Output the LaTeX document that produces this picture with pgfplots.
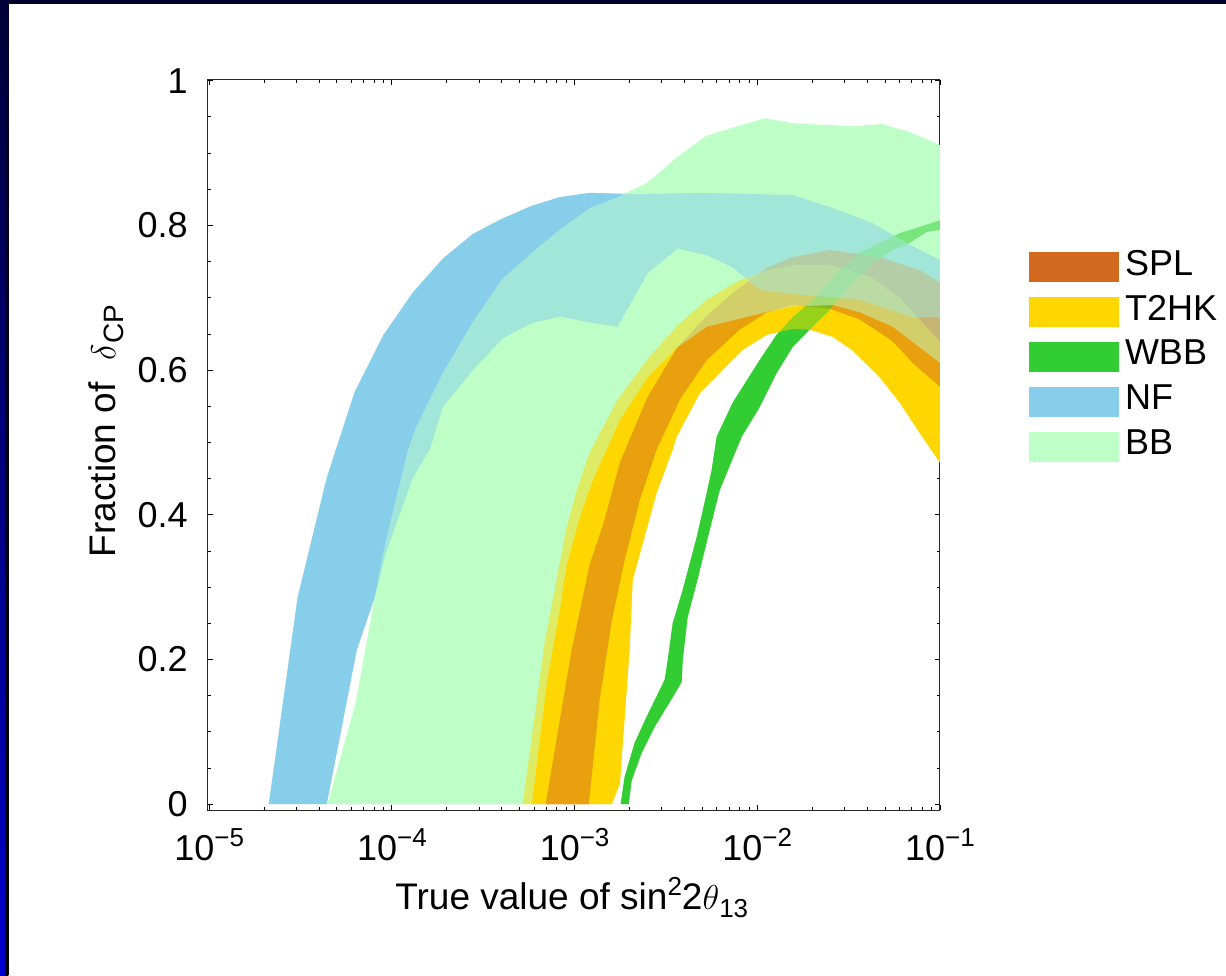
\documentclass[border=0pt]{standalone}
\usepackage{fontspec}
\setmainfont{Liberation Sans}
\usepackage{pgfplots}
\usepackage{pgfplotstable}
\pgfplotsset{compat=1.18}
\definecolor{cSPL}{RGB}{210,105,30}
\definecolor{cT2HK}{RGB}{255,215,0}
\definecolor{cWBB}{RGB}{50,205,50}
\definecolor{cNF}{RGB}{135,206,235}
\definecolor{cBB}{RGB}{190,255,200}
\definecolor{navyA}{RGB}{0,0,40}
\definecolor{navyB}{RGB}{0,0,55}
\definecolor{blueB}{RGB}{0,0,205}
\newcommand{\xt}[1]{10\raisebox{7pt}{\fontsize{13}{14}\selectfont −#1}}

\pgfplotstableread{
x y
2.12e-5 0
3.05e-5 0.286
4.40e-5 0.451
6.26e-5 0.570
9.02e-5 0.649
1.30e-4 0.707
1.90e-4 0.754
2.77e-4 0.788
3.99e-4 0.809
5.83e-4 0.827
8.29e-4 0.839
1.21e-3 0.845
2.27e-3 0.843
4.84e-3 0.845
1.56e-2 0.842
2.59e-2 0.824
4.28e-2 0.803
6.57e-2 0.776
0.1 0.752
0.1 0.673
7.09e-2 0.673
3.64e-2 0.697
1.56e-2 0.705
1.03e-2 0.711
7.34e-3 0.742
5.29e-3 0.759
3.67e-3 0.768
2.51e-3 0.734
1.72e-3 0.660
1.21e-3 0.666
8.29e-4 0.674
5.83e-4 0.665
4.04e-4 0.644
2.77e-4 0.600
1.90e-4 0.549
1.61e-4 0.490
1.30e-4 0.451
9.25e-5 0.347
8.05e-5 0.286
6.42e-5 0.213
4.40e-5 0
}\NFdata

\pgfplotstableread{
x y
4.45e-5 0
6.34e-5 0.140
8.05e-5 0.285
9.02e-5 0.351
1.205e-4 0.483
1.333e-4 0.517
1.90e-4 0.596
2.77e-4 0.666
3.99e-4 0.725
5.83e-4 0.762
8.29e-4 0.794
1.21e-3 0.824
1.72e-3 0.839
2.51e-3 0.859
3.67e-3 0.895
5.29e-3 0.924
7.34e-3 0.935
1.10e-2 0.948
1.56e-2 0.941
3.33e-2 0.937
4.80e-2 0.940
6.83e-2 0.929
0.1 0.911
0.1 0.610
5.51e-2 0.660
3.64e-2 0.680
2.59e-2 0.690
1.56e-2 0.688
1.07e-2 0.679
5.29e-3 0.660
3.67e-3 0.632
2.51e-3 0.590
1.77e-3 0.531
1.26e-3 0.448
1.07e-3 0.397
9.05e-4 0.331
8.29e-4 0.268
7.04e-4 0.167
5.83e-4 0
}\BBdata

\pgfplotstableread{
x y
5.20e-4 0
6.86e-4 0.223
9.05e-4 0.383
1.04e-3 0.438
1.21e-3 0.486
1.72e-3 0.559
2.51e-3 0.615
3.67e-3 0.662
5.29e-3 0.697
7.72e-3 0.722
1.13e-2 0.738
1.56e-2 0.745
2.49e-2 0.745
4.12e-2 0.730
6.02e-2 0.700
0.1 0.639
0.1 0.472
7.75e-2 0.513
6.02e-2 0.555
4.68e-2 0.590
3.33e-2 0.627
2.59e-2 0.646
1.94e-2 0.656
1.56e-2 0.657
1.13e-2 0.649
8.32e-3 0.628
6.23e-3 0.596
4.84e-3 0.568
3.62e-3 0.508
3.44e-3 0.490
2.81e-3 0.430
2.08e-3 0.310
2.00e-3 0.213
1.77e-3 0.029
1.60e-3 0
}\TtwoHKdata

\pgfplotstableread{
x y
6.95e-4 0
9.64e-4 0.213
1.21e-3 0.331
1.46e-3 0.393
1.77e-3 0.472
2.51e-3 0.563
3.67e-3 0.632
5.29e-3 0.675
7.72e-3 0.711
1.13e-2 0.741
1.56e-2 0.756
2.49e-2 0.766
4.68e-2 0.756
7.75e-2 0.738
0.1 0.721
0.1 0.577
7.09e-2 0.610
5.51e-2 0.640
3.64e-2 0.670
2.49e-2 0.685
1.56e-2 0.690
1.13e-2 0.680
8.0e-3 0.656
5.29e-3 0.614
3.76e-3 0.559
2.81e-3 0.490
2.27e-3 0.420
1.88e-3 0.338
1.60e-3 0.255
1.37e-3 0.144
1.195e-3 0
}\SPLdata

\pgfplotstableread{
x y
1.788e-3 0
1.880e-3 0.038
2.133e-3 0.085
2.481e-3 0.121
3.113e-3 0.172
3.233e-3 0.199
3.443e-3 0.250
3.906e-3 0.296
4.660e-3 0.369
5.285e-3 0.430
5.629e-3 0.462
5.996e-3 0.508
7.335e-3 0.555
1.031e-2 0.614
1.277e-2 0.649
1.562e-2 0.673
2.010e-2 0.697
2.720e-2 0.734
3.628e-2 0.762
4.677e-2 0.776
6.017e-2 0.789
7.745e-2 0.798
0.1 0.807
0.1 0.794
8.456e-2 0.791
6.827e-2 0.776
5.510e-2 0.766
4.281e-2 0.748
3.204e-2 0.716
2.399e-2 0.679
1.864e-2 0.652
1.562e-2 0.632
1.277e-2 0.596
1.031e-2 0.549
8.216e-3 0.508
6.226e-3 0.434
5.489e-3 0.379
4.660e-3 0.306
4.159e-3 0.259
3.906e-3 0.199
3.857e-3 0.169
3.443e-3 0.148
2.744e-3 0.107
2.330e-3 0.071
2.054e-3 0.033
1.978e-3 0
}\WBBdata

\begin{document}
\begin{tikzpicture}
\path[use as bounding box] (0,0) rectangle (613pt,487.5pt);
\fill[white] (0,0) rectangle (613pt,487.5pt);
\fill[navyA] (0,485.5pt) rectangle (613pt,487.5pt);
\shade[top color=navyB, bottom color=blueB] (0,0) rectangle (2.5pt,487.5pt);
\shade[top color=navyB, bottom color=black] (2.5pt,0) rectangle (4.2pt,487.5pt);
\begin{axis}[
  at={(104pt,82.5pt)}, anchor=south west,
  scale only axis, width=366pt, height=365pt,
  xmode=log, log basis x=10,
  xmin=9.85e-6, xmax=0.1, ymin=-0.008, ymax=1.001,
  xtick={1e-5,1e-4,1e-3,1e-2,1e-1},
  xticklabels={\xt{5},\xt{4},\xt{3},\xt{2},\xt{1}},
  minor xtick={2e-5,3e-5,4e-5,5e-5,6e-5,7e-5,8e-5,9e-5,2e-4,3e-4,4e-4,5e-4,6e-4,7e-4,8e-4,9e-4,2e-3,3e-3,4e-3,5e-3,6e-3,7e-3,8e-3,9e-3,2e-2,3e-2,4e-2,5e-2,6e-2,7e-2,8e-2,9e-2},
  ytick={0,0.2,0.4,0.6,0.8,1},
  yticklabels={0,0.2,0.4,0.6,0.8,1},
  minor y tick num=3,
  tick align=inside,
  major tick length=2.5pt, minor tick length=1.5pt,
  tick style={black, line width=0.4pt},
  axis line style={black!85, line width=0.5pt},
  ticklabel style={font=\fontsize{18}{21}\selectfont, inner sep=0pt},
  xticklabel style={yshift=-9pt},
  yticklabel style={xshift=-10pt},
  label style={font=\fontsize{18.5}{22}\selectfont},
  xlabel={True value of sin\raisebox{7pt}{\fontsize{13}{14}\selectfont 2}2\ensuremath{\theta}\raisebox{-4pt}{\fontsize{13}{14}\selectfont 13}},
  ylabel={Fraction of\hspace{0.6em}\ensuremath{\delta}\raisebox{-4pt}{\fontsize{14}{15}\selectfont CP}},
  xlabel style={at={(axis description cs:0.497,-0.1205)}, anchor=center, inner sep=0pt},
  ylabel style={at={(axis description cs:-0.1393,0.519)}, anchor=center, inner sep=0pt},
  legend image code/.code={\fill[#1, draw=none] (0pt,-9pt) rectangle (45pt,6pt);},
  legend style={at={(axis description cs:1.1216,0.767)}, anchor=north west,
    draw=none, fill=none, inner sep=0pt, outer sep=0pt,
    row sep=6.5pt, column sep=3pt,
    nodes={inner sep=0pt, outer sep=0pt},
    font=\fontsize{18}{21}\selectfont},
  legend cell align=left,
  clip=true,
]
\addlegendimage{fill=cSPL}
\addlegendentry{SPL}
\addlegendimage{fill=cT2HK}
\addlegendentry{T2HK}
\addlegendimage{fill=cWBB}
\addlegendentry{WBB}
\addlegendimage{fill=cNF}
\addlegendentry{NF}
\addlegendimage{fill=cBB}
\addlegendentry{BB}
% first pass: opaque, reverse order
\addplot[forget plot, fill=cBB, draw=none] table {\BBdata};
\addplot[forget plot, fill=cNF, draw=none] table {\NFdata};
\addplot[forget plot, fill=cWBB, draw=none] table {\WBBdata};
\addplot[forget plot, fill=cT2HK, draw=none] table {\TtwoHKdata};
\addplot[forget plot, fill=cSPL, draw=none] table {\SPLdata};
% second pass: half transparent, forward order
\addplot[forget plot, fill=cSPL, fill opacity=0.5, draw=none] table {\SPLdata};
\addplot[forget plot, fill=cT2HK, fill opacity=0.5, draw=none] table {\TtwoHKdata};
\addplot[forget plot, fill=cWBB, fill opacity=0.5, draw=none] table {\WBBdata};
\addplot[forget plot, fill=cNF, fill opacity=0.5, draw=none] table {\NFdata};
\addplot[forget plot, fill=cBB, fill opacity=0.5, draw=none] table {\BBdata};
\node[font=\fontsize{9.4}{11}\selectfont, anchor=center] at (axis description cs:1.187,0.0438) {GLoBES 2006};
\end{axis}
\end{tikzpicture}
\end{document}
